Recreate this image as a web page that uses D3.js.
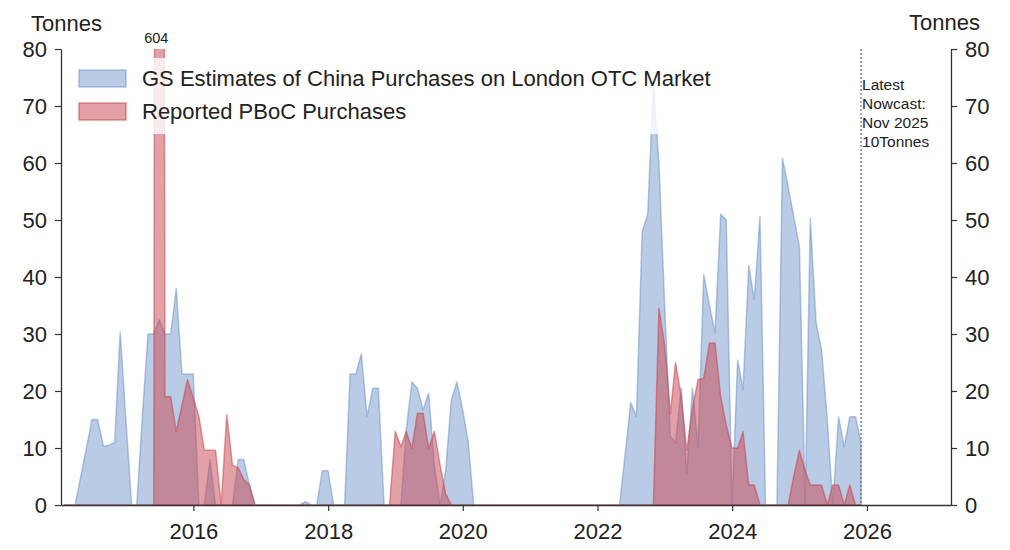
<!DOCTYPE html>
<html>
<head>
<meta charset="utf-8">
<script src="https://cdn.jsdelivr.net/npm/d3@7/dist/d3.min.js"></script>
<style>
  html, body { margin: 0; padding: 0; background: #fff; }
  svg { display: block; font-family: "Liberation Sans", Arial, sans-serif; }
</style>
</head>
<body>
<svg id="chart" width="1010" height="550"></svg>
<script>
// ---- DATA (monthly, month-end, starting Jan 2014) ----
const startYear = 2014, startMonth = 0, monthCount = 143;
const gsEstimates = [
  0, 0, 0, 5, 10, 15, 15, 10.3, 10.5, 11, 30.3, 15,           // 2014
  0, 0, 16, 30, 30, 32.5, 30, 30, 38, 23, 23, 23,             // 2015
  0, 0, 8, 0, 0, 0, 0, 8, 8, 3.5, 0, 0,                       // 2016
  0, 0, 0, 0, 0, 0, 0, 0.6, 0, 0, 6, 6,                       // 2017
  0, 0, 0, 23, 23, 26.5, 15.5, 20.5, 20.5, 0, 0, 0,           // 2018
  0, 13, 21.6, 20.5, 16.7, 19.6, 7, 0, 6, 18.4, 21.6, 16.8,   // 2019
  11, 0, 0, 0, 0, 0, 0, 0, 0, 0, 0, 0,                        // 2020
  0, 0, 0, 0, 0, 0, 0, 0, 0, 0, 0, 0,                         // 2021
  0, 0, 0, 0, 9, 18, 15.5, 48, 51, 74, 60, 35,                // 2022
  12, 10.9, 20.5, 5.6, 20.5, 10.2, 40.4, 35, 30.2, 51, 50, 0, // 2023
  25.4, 20.2, 42, 36, 50.6, 0, 0, 0, 60.8, 55.8, 50.6, 45.3,  // 2024
  0, 50.3, 32, 27.2, 15, 0, 15.5, 10.2, 15.5, 15.5, 11        // 2025 (to Nov)
];
const pbocReported = [
  0, 0, 0, 0, 0, 0, 0, 0, 0, 0, 0, 0,                         // 2014
  0, 0, 0, 0, 0, 604, 19, 19, 12.9, 17.5, 22, 18.8,           // 2015
  15.5, 9.6, 9.6, 9.6, 0, 15.8, 7, 6.5, 4.5, 3.5, 0, 0,       // 2016
  0, 0, 0, 0, 0, 0, 0, 0, 0, 0, 0, 0,                         // 2017
  0, 0, 0, 0, 0, 0, 0, 0, 0, 0, 0, 12.9,                      // 2018
  10.2, 12.9, 9.9, 16.1, 16.1, 9.9, 12.9, 7, 2, 0, 0, 0,      // 2019
  0, 0, 0, 0, 0, 0, 0, 0, 0, 0, 0, 0,                         // 2020
  0, 0, 0, 0, 0, 0, 0, 0, 0, 0, 0, 0,                         // 2021
  0, 0, 0, 0, 0, 0, 0, 0, 0, 0, 34.5, 28,                     // 2022
  16, 25, 19, 9.6, 17, 22, 22.2, 28.4, 28.4, 19, 14, 10,      // 2023
  10, 12.9, 3.5, 3.5, 0, 0, 0, 0, 0, 0, 5, 9.6,               // 2024
  6, 3.5, 3.5, 3.5, 0, 3.5, 3.5, 0, 3.5, 0, 0                 // 2025 (to Nov)
];
const seriesNames = ["GS Estimates of China Purchases on London OTC Market", "Reported PBoC Purchases"];
const yTicks = [0, 10, 20, 30, 40, 50, 60, 70, 80];
const xTickYears = [2016, 2018, 2020, 2022, 2024, 2026];
const spikeLabel = "604";
const nowcastLines = ["Latest", "Nowcast:", "Nov 2025", "10Tonnes"];
const axisTitle = "Tonnes";

// ---- BUILD ----
const dates = d3.range(monthCount).map(i => new Date(startYear, startMonth + i + 1, 0));
const blueData = dates.map((d, i) => ({ date: d, v: gsEstimates[i] }));
const redData = dates.map((d, i) => ({ date: d, v: pbocReported[i] }));

const svg = d3.select("#chart");
const L = 61, R = 951, T = 49, B = 505;

const x = d3.scaleTime()
  .domain([new Date(2014, 0, 13), new Date(2027, 3, 2)])
  .range([L, R]);
const y = d3.scaleLinear().domain([0, 80]).range([B, T]);

svg.append("defs").append("clipPath").attr("id", "plotclip")
  .append("rect").attr("x", L).attr("y", T).attr("width", R - L).attr("height", B - T + 2);

const area = d3.area().x(d => x(d.date)).y0(y(0)).y1(d => y(d.v));

const plot = svg.append("g").attr("clip-path", "url(#plotclip)");
plot.append("path").datum(blueData).attr("d", area)
  .attr("fill", "#5b85c0").attr("fill-opacity", 0.42)
  .attr("stroke", "#5b85c0").attr("stroke-opacity", 0.45).attr("stroke-width", 1.5)
  .attr("stroke-linejoin", "round");
plot.append("path").datum(redData).attr("d", area)
  .attr("fill", "#c8444f").attr("fill-opacity", 0.5)
  .attr("stroke", "#c8444f").attr("stroke-opacity", 0.55).attr("stroke-width", 1.5)
  .attr("stroke-linejoin", "round");

// Nowcast dashed line
const nowDate = dates[dates.length - 1];
svg.append("line")
  .attr("x1", x(nowDate)).attr("x2", x(nowDate))
  .attr("y1", T).attr("y2", B)
  .attr("stroke", "#555").attr("stroke-width", 1).attr("stroke-dasharray", "2,2");
const nt = svg.append("text").attr("x", x(nowDate) + 1).attr("font-size", 15.5).attr("fill", "#222");
nowcastLines.forEach((s, i) => nt.append("tspan").attr("x", x(nowDate) + 1).attr("y", 90 + i * 19).text(s));

// spike label
const spikeIdx = pbocReported.indexOf(d3.max(pbocReported));
svg.append("text").attr("x", x(dates[spikeIdx]) - 3).attr("y", 43)
  .attr("text-anchor", "middle").attr("font-size", 14.5).attr("fill", "#222").text(spikeLabel);

// Legend (semi-transparent white frame)
const lg = svg.append("g");
lg.append("rect").attr("x", 68).attr("y", 58).attr("width", 662).attr("height", 76).attr("rx", 4)
  .attr("fill", "#fff").attr("fill-opacity", 0.8);
const legendItems = [
  { name: seriesNames[0], color: "#5b85c0", fo: 0.42, so: 0.45 },
  { name: seriesNames[1], color: "#c8444f", fo: 0.5, so: 0.55 }
];
legendItems.forEach((it, i) => {
  const yy = 70 + i * 33;
  lg.append("rect").attr("x", 79).attr("y", yy).attr("width", 47).attr("height", 17)
    .attr("fill", it.color).attr("fill-opacity", it.fo)
    .attr("stroke", it.color).attr("stroke-opacity", it.so).attr("stroke-width", 1.5);
  lg.append("text").attr("x", 142).attr("y", yy + 16).attr("font-size", 22).attr("fill", "#222").text(it.name);
});

// Axes
const axColor = "#333";
const xAxis = svg.append("g").attr("transform", `translate(0,${B})`)
  .call(d3.axisBottom(x).tickValues(xTickYears.map(yr => new Date(yr, 0, 1)))
    .tickFormat(d3.timeFormat("%Y")).tickSize(6).tickPadding(8).tickSizeOuter(0));
const yL = svg.append("g").attr("transform", `translate(${L},0)`)
  .call(d3.axisLeft(y).tickValues(yTicks).tickSize(6).tickPadding(8).tickSizeOuter(0));
const yR = svg.append("g").attr("transform", `translate(${R},0)`)
  .call(d3.axisRight(y).tickValues(yTicks).tickSize(6).tickPadding(8).tickSizeOuter(0));
[xAxis, yL, yR].forEach(g => {
  g.selectAll("path.domain").attr("stroke", axColor).attr("stroke-width", 1.3);
  g.selectAll(".tick line").attr("stroke", axColor).attr("stroke-width", 1.2);
  g.selectAll(".tick text").attr("fill", "#222").attr("font-size", 22)
    .attr("font-family", "'Liberation Sans', Arial, sans-serif");
});
xAxis.selectAll(".tick text").attr("dy", "0.9em");

svg.append("text").attr("x", 31).attr("y", 31).attr("font-size", 22).attr("fill", "#222").text(axisTitle);
svg.append("text").attr("x", 980).attr("y", 30).attr("text-anchor", "end").attr("font-size", 22).attr("fill", "#222").text(axisTitle);
</script>
</body>
</html>
